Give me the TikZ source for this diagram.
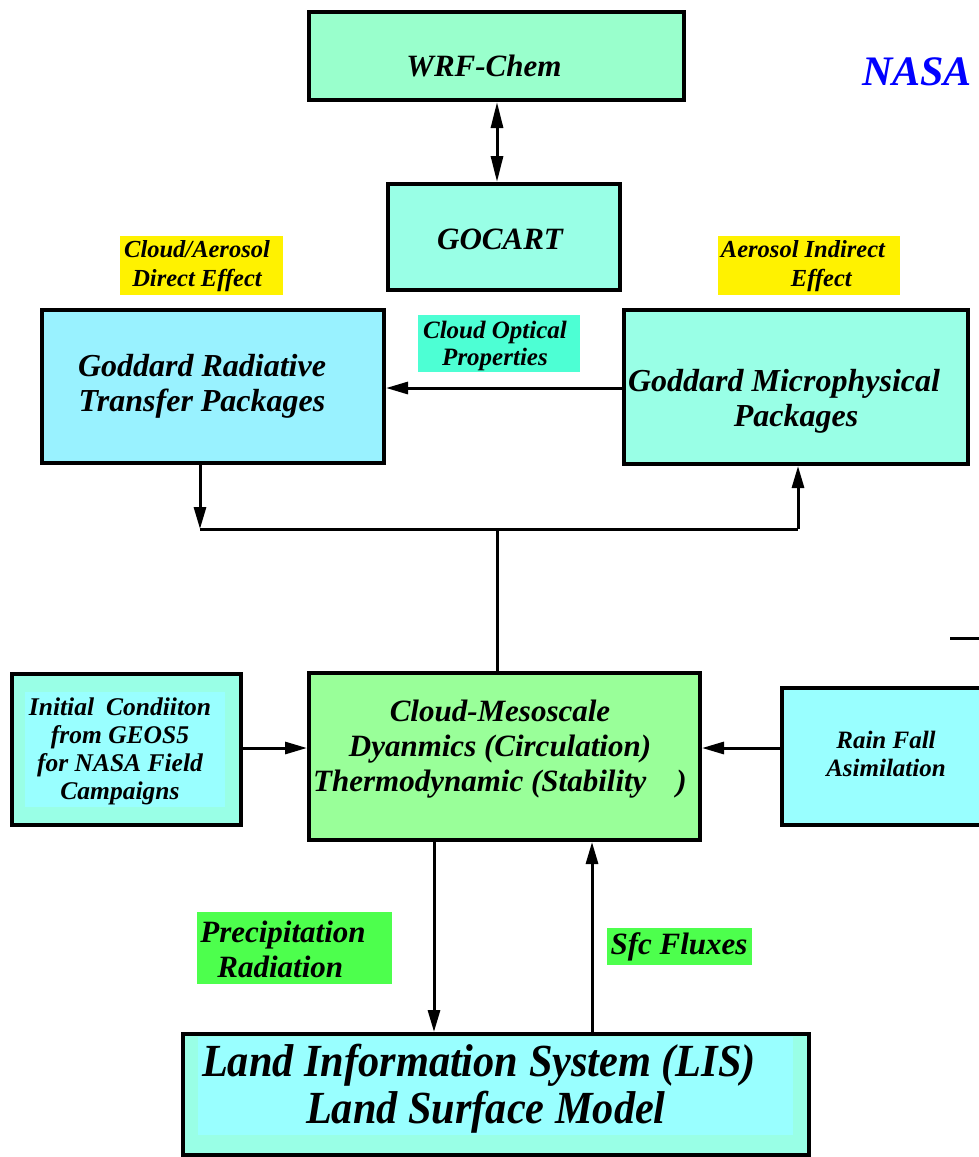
\documentclass[tikz,border=0pt]{standalone}
\usepackage{fontspec}
\setmainfont{Liberation Serif}
\usetikzlibrary{arrows.meta}
\definecolor{mintA}{HTML}{99FFCC}
\definecolor{mintB}{HTML}{99FFE6}
\definecolor{cyanA}{HTML}{99F2FF}
\definecolor{cyanB}{HTML}{99FFFF}
\definecolor{greenA}{HTML}{99FF99}
\definecolor{greenL}{HTML}{4DFF4D}
\definecolor{aquaL}{HTML}{4DFFD4}
\definecolor{yellowL}{HTML}{FFF200}
\definecolor{nasablue}{HTML}{0000FF}
\begin{document}
\begin{tikzpicture}[x=1pt,y=-1pt,
  box/.style={draw=black, line width=4pt, inner sep=0pt},
  bg/.style={draw=none, inner sep=0pt},
  txt/.style={inner sep=0pt, align=center, font=\bfseries\itshape\fontsize{31}{35}\selectfont},
  bigtxt/.style={inner sep=0pt, align=center, font=\bfseries\itshape\fontsize{32}{35}\selectfont},
  smalltxt/.style={inner sep=0pt, align=center, font=\bfseries\itshape\fontsize{24.5}{28.5}\selectfont},
  conn/.style={line width=3pt},
  arr/.style={line width=3pt, -{Triangle[length=22pt,width=12pt]}},
  dbl/.style={line width=3pt, {Triangle[length=26pt,width=12pt]}-{Triangle[length=26pt,width=12pt]}}
]
\clip (0,0) rectangle (979,1157);
\fill[white] (0,0) rectangle (979,1157);

% boxes
\node[box, fill=mintA, minimum width=375pt, minimum height=88pt] (wrf) at (496.5,56) {};
\node[box, fill=mintB, minimum width=232pt, minimum height=106pt] (goc) at (504,237) {};
\node[box, fill=cyanA, minimum width=342pt, minimum height=153pt] (rad) at (213,386.5) {};
\node[box, fill=mintB, minimum width=344pt, minimum height=154pt] (mic) at (796,387) {};
\node[box, fill=mintB, minimum width=229pt, minimum height=151pt] (ini) at (126.5,749.5) {};
\node[bg, fill=cyanB, minimum width=200pt, minimum height=115pt] (iniin) at (125,749.5) {};
\node[box, fill=greenA, minimum width=391pt, minimum height=167pt] (cld) at (504.5,756.5) {};
\node[box, fill=cyanB, minimum width=228pt, minimum height=137pt] (rain) at (896,756.5) {};
\node[box, fill=mintB, minimum width=626pt, minimum height=121pt] (lis) at (496,1094.5) {};
\node[bg, fill=cyanB, minimum width=595pt, minimum height=98pt] (lisin) at (495.5,1086) {};

% label backgrounds
\node[bg, fill=yellowL, minimum width=163pt, minimum height=59pt] (ylA) at (201.5,265.5) {};
\node[bg, fill=yellowL, minimum width=182pt, minimum height=59pt] (ylB) at (809,265.5) {};
\node[bg, fill=aquaL, minimum width=162pt, minimum height=57pt] (cop) at (499,343.5) {};
\node[bg, fill=greenL, minimum width=195pt, minimum height=72pt] (prc) at (294.5,948) {};
\node[bg, fill=greenL, minimum width=145pt, minimum height=37pt] (sfc) at (679.5,946.5) {};

% texts
\node[txt] (twrf) at (484,66) {WRF-Chem};
\node[txt] (tgoc) at (500,239) {GOCART};
\node[bigtxt] (trad) at (202,386) {Goddard Radiative\\Transfer Packages};
\node[bigtxt] (tmic) at (784,401) {Goddard Microphysical\\\hspace*{24pt}Packages};
\node[txt] (tcld) at (500,749) {Cloud-Mesoscale\\Dyanmics (Circulation)\\Thermodynamic (Stability\hspace*{30pt})};
\node[inner sep=0pt, align=center, font=\bfseries\itshape\fontsize{25.5}{28}\selectfont] (tini) at (120,751) {Initial\hspace*{12pt}Condiiton\\from GEOS5\\for NASA Field\\Campaigns};
\node[inner sep=0pt, align=center, font=\bfseries\itshape\fontsize{25}{28}\selectfont] (train) at (886,754) {Rain Fall\\Asimilation};
\node[inner sep=0pt, align=center, font=\bfseries\itshape\fontsize{46}{48}\selectfont] (tlis) at (479,1090) {\scalebox{0.92}[1]{\begin{tabular}{@{}c@{}}Land Information System (LIS)\\[-1pt]\hspace*{15pt}Land Surface Model\end{tabular}}};
\node[smalltxt] (tylA) at (197,266) {Cloud/Aerosol\\Direct Effect};
\node[smalltxt, align=left] (tylB) at (803,266) {Aerosol Indirect\\\hspace*{70pt}Effect};
\node[inner sep=0pt, align=center, font=\bfseries\itshape\fontsize{25}{27}\selectfont] (tcop) at (495,346) {Cloud Optical\\Properties};
\node[txt, align=left] (tprc) at (283,949) {Precipitation\\\hspace*{17pt}Radiation};
\node[txt] (tsfc) at (679,947) {Sfc Fluxes};
\node[inner sep=0pt, font=\bfseries\itshape\fontsize{42}{44}\selectfont, text=nasablue] (nasa) at (917,72) {NASA};

% connectors
\draw[dbl] ([xshift=0.5pt]wrf.south) -- ([xshift=0.5pt]wrf.south |- goc.north);
\draw[arr] (mic.west |- 0,388) -- (rad.east |- 0,388);
\coordinate (jl) at (200,529);
\coordinate (jm) at (497,529);
\coordinate (jr) at (798,529);
\draw[arr] (jl |- rad.south) -- (jl);
\draw[conn] (jl) -- (jr);
\draw[arr] (jr) -- (jr |- mic.south);
\draw[conn] (jm) -- (jm |- cld.north);
\draw[arr] (ini.east |- 0,748) -- (cld.west |- 0,748);
\draw[arr] (rain.west |- 0,748) -- (cld.east |- 0,748);
\coordinate (cd) at (434,0);
\coordinate (cu) at (592,0);
\draw[arr] (cd |- cld.south) -- (cd |- lis.north);
\draw[arr] (cu |- lis.north) -- (cu |- cld.south);
\coordinate (rs) at (950,638);
\coordinate (re) at (990,638);
\draw[conn] (rs) -- (re);
\end{tikzpicture}
\end{document}
